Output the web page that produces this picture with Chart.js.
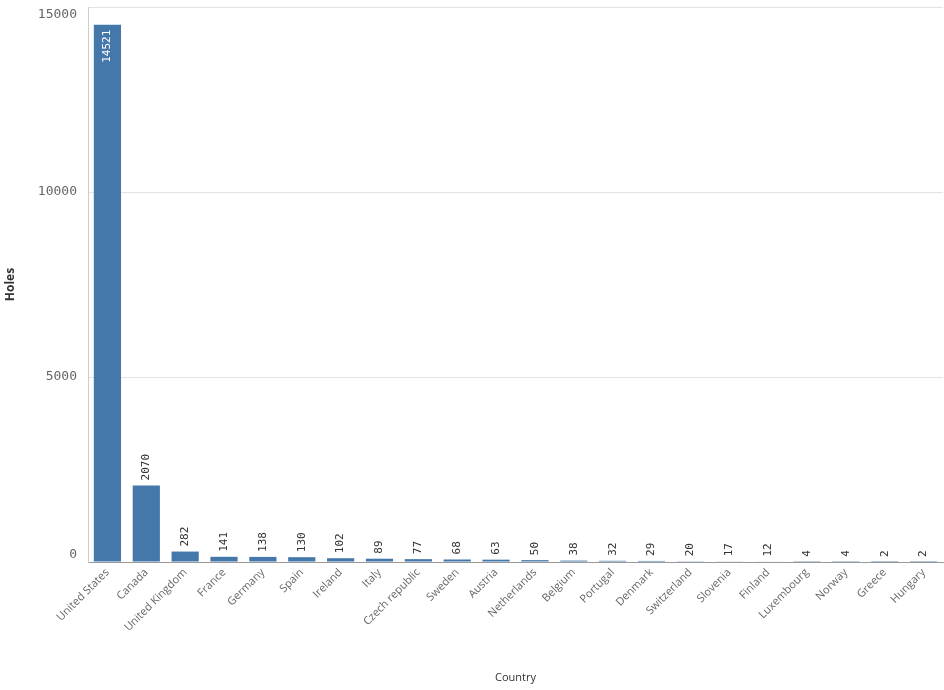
<!DOCTYPE html>
<html>
<head>
<meta charset="utf-8">
<script src="https://cdn.jsdelivr.net/npm/chart.js@4"></script>
<style>
  html, body { margin: 0; padding: 0; background: #fff; }
  #wrap { width: 944px; height: 690px; }
</style>
</head>
<body>
<div id="wrap"><canvas id="myChart" width="944" height="690"></canvas></div>
<script>
// data
var countries = ['United States', 'Canada', 'United Kingdom', 'France', 'Germany', 'Spain', 'Ireland',
  'Italy', 'Czech republic', 'Sweden', 'Austria', 'Netherlands', 'Belgium', 'Portugal', 'Denmark',
  'Switzerland', 'Slovenia', 'Finland', 'Luxembourg', 'Norway', 'Greece', 'Hungary'];
var holes = [14521, 2070, 282, 141, 138, 130, 102, 89, 77, 68, 63, 50, 38, 32, 29, 20, 17, 12, 4, 4, 2, 2];
var yTicks = [0, 5000, 10000, 15000];

//*******************value labels on the bars*******************
var barLabels = {
  id: 'barLabels',
  afterDatasetsDraw: function (chart) {
    var ctx = chart.ctx;
    var meta = chart.getDatasetMeta(0);
    ctx.save();
    ctx.font = '11px "DejaVu Sans Mono"';
    ctx.textBaseline = 'middle';
    meta.data.forEach(function (bar, i) {
      var txt = String(holes[i]);
      var inside = bar.base - bar.y > 150;
      ctx.save();
      ctx.translate(bar.x, bar.y);
      ctx.rotate(-Math.PI / 2);
      if (inside) {
        ctx.fillStyle = '#ffffff';
        ctx.textAlign = 'right';
        ctx.fillText(txt, -5, 0);
      } else {
        ctx.fillStyle = '#333333';
        ctx.textAlign = 'left';
        ctx.fillText(txt, 5, 0);
      }
      ctx.restore();
    });
    ctx.restore();
  }
};

var ctx = document.getElementById('myChart').getContext('2d');
var chart = new Chart(ctx, {
  type: 'bar',
  data: {
    labels: countries,
    datasets: [{
      label: 'Holes',
      backgroundColor: '#4477aa',
      categoryPercentage: 1,
      barPercentage: 0.7,
      data: holes
    }]
  },
  plugins: [barLabels],
  options: {
    responsive: false,
    animation: false,
    layout: { padding: { top: 7, right: 1, left: 3, bottom: 0 } },
    plugins: {
      legend: { display: false },
      tooltip: { enabled: false }
    },
    scales: {
      x: {
        grid: { display: false, drawTicks: false },
        border: { color: '#999999' },
        ticks: {
          autoSkip: false,
          minRotation: 45,
          maxRotation: 45,
          padding: 4,
          color: '#666666',
          font: { family: '"Open Sans"', size: 11 }
        },
        title: {
          display: true,
          text: 'Country',
          color: '#333333',
          font: { family: '"Open Sans"', size: 11 },
          padding: { top: 0, bottom: 6 }
        },
        afterFit: function (scale) {
          scale.height = 128;
          scale.paddingLeft = 0;
          scale.paddingRight = 0;
        }
      },
      y: {
        min: 0,
        max: 15000,
        afterBuildTicks: function (scale) {
          scale.ticks = yTicks.map(function (v) { return { value: v }; });
        },
        grid: { color: '#e3e3e3', drawTicks: false },
        border: { color: '#cccccc' },
        ticks: {
          padding: 11,
          color: '#666666',
          font: { family: '"DejaVu Sans Mono"', size: 13 },
          // keep the end labels inside the plot, as in the picture
          callback: function (value) {
            if (value === 15000) return ['', String(value)];
            if (value === 0) return [String(value), ''];
            return String(value);
          }
        },
        title: {
          display: true,
          text: 'Holes',
          color: '#333333',
          font: { family: '"Open Sans"', size: 12, weight: 'bold' },
          padding: { top: 0, bottom: 0 }
        },
        afterFit: function (scale) {
          scale.width = 85;
          scale.paddingTop = 0;
          scale.paddingBottom = 0;
        }
      }
    }
  }
});
</script>
</body>
</html>
